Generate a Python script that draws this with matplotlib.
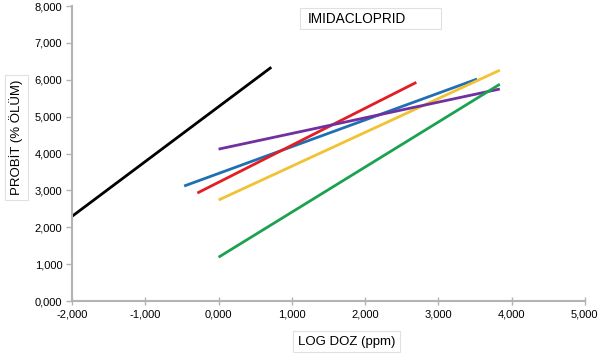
import matplotlib
matplotlib.use('Agg')
import matplotlib.pyplot as plt
from matplotlib.ticker import FuncFormatter
from matplotlib.patches import Rectangle

plt.rcParams['font.family'] = ['Liberation Sans', 'DejaVu Sans']

# probit regression lines: start/end of each line (log dose, probit)
line_colors = ['#000000', '#1f6fb4', '#e31d24', '#f1c232', '#7030a0', '#1aa251']
x_start = [-2.00, -0.47, -0.29, 0.00, 0.00, 0.00]
x_end = [0.72, 3.53, 2.70, 3.84, 3.84, 3.84]
y_start = [2.30, 3.12, 2.93, 2.74, 4.12, 1.19]
y_end = [6.34, 6.02, 5.93, 6.26, 5.75, 5.88]

x_ticks = [-2, -1, 0, 1, 2, 3, 4, 5]
y_ticks = [0, 1, 2, 3, 4, 5, 6, 7, 8]

fig = plt.figure(figsize=(6.06, 3.53), dpi=100)
ax = fig.add_axes([0.119, 0.147, 0.846, 0.836])

for c, x0, x1, y0, y1 in zip(line_colors, x_start, x_end, y_start, y_end):
    ax.plot([x0, x1], [y0, y1], color=c, linewidth=2.0, solid_capstyle='butt')

ax.set_xlim(-2, 5)
ax.set_ylim(0, 8)
ax.set_xticks(x_ticks)
ax.set_yticks(y_ticks)
fmt = FuncFormatter(lambda v, p: f'{v:.3f}'.replace('.', ','))
ax.xaxis.set_major_formatter(fmt)
ax.yaxis.set_major_formatter(fmt)

for s in ['top', 'right']:
    ax.spines[s].set_visible(False)
for s in ['left', 'bottom']:
    ax.spines[s].set_color('#b3b3b3')
    ax.spines[s].set_linewidth(1.5)
ax.tick_params(axis='y', direction='out', length=4, color='#b3b3b3', width=1,
               labelsize=8, pad=3)
ax.tick_params(axis='x', direction='inout', length=6, color='#b3b3b3', width=1,
               labelsize=8, pad=3)

# title box
fig.patches.append(Rectangle((0.495, 0.918), 0.233, 0.059, transform=fig.transFigure,
                             facecolor='white', edgecolor='#e0e0e0', linewidth=0.8))
fig.text(0.508, 0.946, 'IMIDACLOPRID', fontsize=9.8, ha='left', va='center')

box = dict(boxstyle='square,pad=0.35', facecolor='white', edgecolor='#e0e0e0', linewidth=0.8)
fig.text(0.572, 0.032, 'LOG DOZ (ppm)', fontsize=9.5, ha='center', va='center', bbox=box)
fig.text(0.027, 0.61, 'PROBİT (% ÖLÜM)', fontsize=9.5, ha='center', va='center',
         rotation=90, bbox=box)

fig.savefig('out.png', dpi=100)
